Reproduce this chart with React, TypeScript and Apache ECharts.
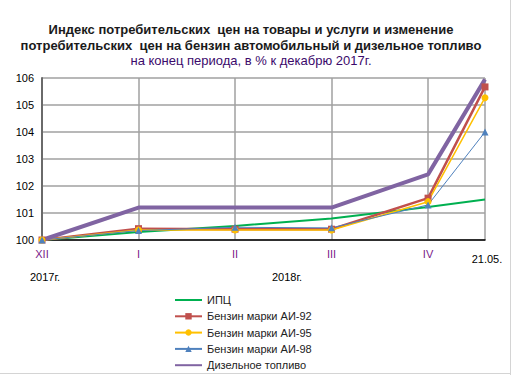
import React, { useEffect, useRef } from "react";
import * as echarts from "echarts";

const titleLines = [
  "Индекс потребительских  цен на товары и услуги и изменение",
  "потребительских  цен на бензин автомобильный и дизельное топливо",
];
const subtitle = "на конец периода, в % к декабрю 2017г.";

// x positions of the periods (months; last point is 21 May)
const xPositions = [0, 1, 2, 3, 4, 4.59];
const periodLabels = ["XII", "I", "II", "III", "IV", "21.05."];
const yearLabels = ["2017г.", "2018г."];

const seriesNames = [
  "ИПЦ",
  "Бензин марки АИ-92",
  "Бензин марки АИ-95",
  "Бензин марки АИ-98",
  "Дизельное топливо",
];
const cpi = [100, 100.3, 100.52, 100.8, 101.22, 101.5];
const ai92 = [100, 100.42, 100.4, 100.4, 101.55, 105.67];
const ai95 = [100, 100.37, 100.37, 100.37, 101.42, 105.27];
const ai98 = [100, 100.35, 100.47, 100.45, 101.3, 104.0];
const diesel = [100, 101.2, 101.2, 101.2, 102.43, 105.95];

const FONT = "'Liberation Sans', Arial, sans-serif";

function pairs(values: number[]) {
  return values.map((v, i) => [xPositions[i], v]);
}

export default function App() {
  const ref = useRef<HTMLDivElement>(null);
  useEffect(() => {
    if (!ref.current) return;
    const chart = echarts.init(ref.current, null, { renderer: "svg" });
    const xMax = xPositions[xPositions.length - 1];
    const labelFor = (v: number) => {
      const idx = xPositions.findIndex((p) => Math.abs(p - v) < 1e-6);
      if (idx < 0) return "";
      if (idx === xPositions.length - 1) return "{end|" + periodLabels[idx] + "}";
      return periodLabels[idx];
    };
    const noSymbol = { color: "rgba(0,0,0,0)", borderWidth: 0 };
    chart.setOption({
      animation: false,
      backgroundColor: "#ffffff",
      textStyle: { fontFamily: FONT },
      grid: { left: 42, right: 31, top: 78, bottom: 135 },
      xAxis: {
        type: "value",
        min: 0,
        max: xMax,
        interval: 1,
        axisLine: { show: true, lineStyle: { color: "#000000", width: 1.5 } },
        axisTick: { show: false },
        splitLine: { show: true, lineStyle: { color: "#a0a0a0", width: 1.5 } },
        axisLabel: {
          showMinLabel: true,
          showMaxLabel: true,
          fontSize: 11,
          color: "#7a1a8a",
          margin: 8,
          fontFamily: FONT,
          formatter: labelFor,
          rich: {
            end: { color: "#000000", fontSize: 11, fontFamily: FONT, padding: [5, 0, 0, 4] },
          },
        },
      },
      yAxis: {
        type: "value",
        min: 100,
        max: 106,
        interval: 1,
        axisLine: { show: true, lineStyle: { color: "#6a6a6a", width: 2 } },
        axisTick: { show: false },
        splitLine: { show: true, lineStyle: { color: "#a0a0a0", width: 1.5 } },
        axisLabel: { fontSize: 11, color: "#000000", margin: 8, fontFamily: FONT },
      },
      legend: {
        orient: "vertical",
        left: 174,
        top: 294,
        padding: 0,
        itemWidth: 27,
        itemHeight: 8,
        itemGap: 4.3,
        textStyle: { fontSize: 11, color: "#222222", fontFamily: FONT, lineHeight: 12 },
        data: [
          { name: seriesNames[0], itemStyle: noSymbol },
          { name: seriesNames[1] },
          { name: seriesNames[2] },
          { name: seriesNames[3] },
          { name: seriesNames[4], itemStyle: noSymbol },
        ],
      },
      series: [
        {
          name: seriesNames[0],
          type: "line",
          data: pairs(cpi),
          symbol: "none",
          lineStyle: { color: "#00b050", width: 2 },
          itemStyle: { color: "#00b050" },
        },
        {
          name: seriesNames[1],
          type: "line",
          data: pairs(ai92),
          symbol: "rect",
          symbolSize: 7,
          lineStyle: { color: "#c0504d", width: 2.5 },
          itemStyle: { color: "#c0504d" },
        },
        {
          name: seriesNames[2],
          type: "line",
          data: pairs(ai95),
          symbol: "circle",
          symbolSize: 7,
          lineStyle: { color: "#ffc000", width: 1.5 },
          itemStyle: { color: "#ffc000" },
        },
        {
          name: seriesNames[3],
          type: "line",
          data: pairs(ai98),
          symbol: "triangle",
          symbolSize: 7,
          lineStyle: { color: "#4f81bd", width: 1 },
          itemStyle: { color: "#4f81bd" },
        },
        {
          name: seriesNames[4],
          type: "line",
          data: pairs(diesel),
          symbol: "none",
          lineStyle: { color: "#8064a2", width: 4 },
          itemStyle: { color: "#8064a2" },
        },
      ],
      graphic: [
        {
          type: "text",
          x: 251,
          y: 29,
          style: {
            text: titleLines[0],
            font: "bold 13px " + FONT,
            fill: "#1a1a1a",
            textAlign: "center",
            textVerticalAlign: "middle",
          },
        },
        {
          type: "text",
          x: 251,
          y: 45,
          style: {
            text: titleLines[1],
            font: "bold 13px " + FONT,
            fill: "#1a1a1a",
            textAlign: "center",
            textVerticalAlign: "middle",
          },
        },
        {
          type: "text",
          x: 251,
          y: 60,
          style: {
            text: subtitle,
            font: "13px " + FONT,
            fill: "#3b0a6b",
            textAlign: "center",
            textVerticalAlign: "middle",
          },
        },
        {
          type: "text",
          x: 45,
          y: 277,
          style: {
            text: yearLabels[0],
            font: "11px " + FONT,
            fill: "#000000",
            textAlign: "center",
            textVerticalAlign: "middle",
          },
        },
        {
          type: "text",
          x: 287,
          y: 277,
          style: {
            text: yearLabels[1],
            font: "11px " + FONT,
            fill: "#000000",
            textAlign: "center",
            textVerticalAlign: "middle",
          },
        },
        {
          type: "line",
          shape: { x1: 510.5, y1: 0, x2: 510.5, y2: 375 },
          style: { stroke: "#d4d4d4", lineWidth: 1 },
        },
        {
          type: "line",
          shape: { x1: 0, y1: 373.5, x2: 510, y2: 373.5 },
          style: { stroke: "#d4d4d4", lineWidth: 1 },
        },
      ],
    });
    return () => chart.dispose();
  }, []);
  return (
    <div
      ref={ref}
      style={{ position: "fixed", left: 0, top: 0, width: 516, height: 375, background: "#fff" }}
    />
  );
}
